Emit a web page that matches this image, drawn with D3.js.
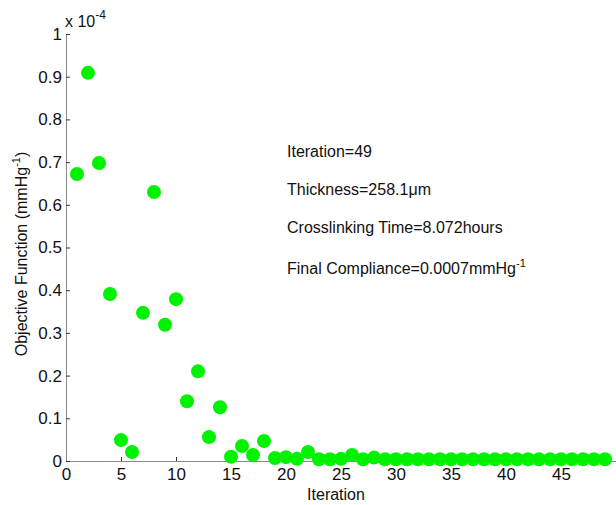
<!DOCTYPE html>
<html>
<head>
<meta charset="utf-8">
<script src="https://cdn.jsdelivr.net/npm/d3@7"></script>
<style>
  body { margin: 0; background: #fff; }
  svg { display: block; font-family: "Liberation Sans", Arial, sans-serif; }
</style>
</head>
<body>
<svg id="chart" width="616" height="505"></svg>
<script>
// objective function per iteration (x 1e-4 mmHg^-1)
const iterations = d3.range(1, 50);
const objective = [
  0.672, 0.909, 0.698, 0.391, 0.049, 0.021, 0.347, 0.630, 0.319, 0.379,
  0.140, 0.210, 0.056, 0.126, 0.010, 0.035, 0.014, 0.047, 0.007, 0.009,
  0.005, 0.021, 0.004, 0.004, 0.005, 0.014, 0.004, 0.008, 0.004, 0.004,
  0.004, 0.004, 0.004, 0.004, 0.004, 0.004, 0.004, 0.004, 0.004, 0.004,
  0.004, 0.004, 0.004, 0.004, 0.004, 0.004, 0.004, 0.004, 0.004
];
const xTicks = [0, 5, 10, 15, 20, 25, 30, 35, 40, 45];
const yTicks = [0, 0.1, 0.2, 0.3, 0.4, 0.5, 0.6, 0.7, 0.8, 0.9, 1];
const notes = ["Iteration=49", "Thickness=258.1\u03bcm", "Crosslinking Time=8.072hours", "Final Compliance=0.0007mmHg"];

const svg = d3.select("#chart");
const margin = { top: 34, right: 0, bottom: 44, left: 66 };
const width = 616, height = 505;

const x = d3.scaleLinear().domain([0, 50]).range([margin.left, width - margin.right]);
const y = d3.scaleLinear().domain([0, 1]).range([height - margin.bottom, margin.top]);

// x axis
const gx = svg.append("g")
  .attr("transform", `translate(0,${y(0)})`)
  .call(d3.axisBottom(x).tickValues(xTicks).tickSize(0).tickPadding(7).tickFormat(d3.format("d")));
gx.select(".domain").attr("stroke", "#888");
gx.selectAll("text").attr("font-size", 17).attr("fill", "#111").attr("font-family", "Liberation Sans, Arial, sans-serif");
gx.selectAll(".tick").append("line")
  .attr("y1", 0).attr("y2", -4).attr("stroke", "#333");

// y axis
const gy = svg.append("g")
  .attr("transform", `translate(${x(0)},0)`)
  .call(d3.axisLeft(y).tickValues(yTicks).tickSize(0).tickPadding(4).tickFormat(d => d === 0 ? "0" : d === 1 ? "1" : d3.format(".1f")(d)));
gy.select(".domain").attr("stroke", "#888");
gy.selectAll("text").attr("font-size", 17).attr("fill", "#111").attr("font-family", "Liberation Sans, Arial, sans-serif");
gy.selectAll(".tick").append("line")
  .attr("x1", 0).attr("x2", 4).attr("stroke", "#333");

// exponent
const expo = svg.append("text")
  .attr("x", x(0) - 1)
  .attr("y", 27)
  .attr("font-size", 16)
  .attr("fill", "#111");
expo.append("tspan").text("x 10");
expo.append("tspan").attr("dy", -8).attr("font-size", 12).text("-4");

// points
svg.append("g").selectAll("circle")
  .data(iterations)
  .enter()
  .append("circle")
  .attr("cx", d => x(d))
  .attr("cy", (d, i) => y(objective[i]))
  .attr("r", 7)
  .attr("fill", "#00f200");

// annotations
const ann = svg.append("g").attr("font-size", 16).attr("fill", "#111");
const noteY = [157, 195, 233, 274];
notes.forEach((t, i) => {
  const txt = ann.append("text").attr("x", 287).attr("y", noteY[i]).text(t);
  if (i === 3) txt.append("tspan").attr("dy", -7).attr("font-size", 11).text("-1");
});

// axis labels
svg.append("text")
  .attr("x", 336)
  .attr("y", 500)
  .attr("text-anchor", "middle")
  .attr("font-size", 16)
  .attr("fill", "#111")
  .text("Iteration");

const yl = svg.append("text")
  .attr("transform", "rotate(-90)")
  .attr("x", -254)
  .attr("y", 27)
  .attr("text-anchor", "middle")
  .attr("font-size", 16)
  .attr("fill", "#111");
yl.append("tspan").text("Objective Function (mmHg");
yl.append("tspan").attr("dy", -7).attr("font-size", 11).text("-1");
yl.append("tspan").attr("dy", 7).text(")");
</script>
</body>
</html>
